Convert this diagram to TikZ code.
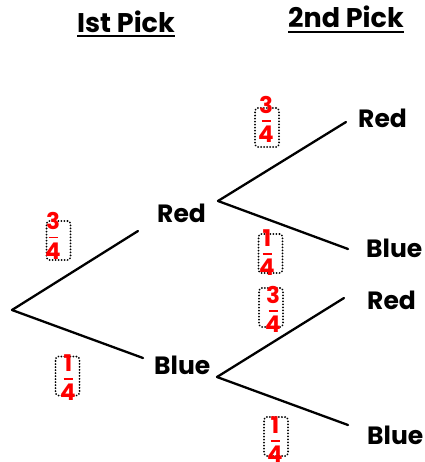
\documentclass[tikz,border=0pt]{standalone}
\usepackage{fontspec}
\setmainfont{Poppins}
\definecolor{fracred}{RGB}{255,0,0}
% stacked fraction: numerator, short bar, denominator
\newcommand\frc[2]{\vbox{\offinterlineskip\hbox to 12pt{\hss#1\hss}\kern6.5pt\hbox to 12pt{\hss\rule{9pt}{1.6pt}\hss}\kern4.5pt\hbox to 12pt{\hss#2\hss}}}
\begin{document}
\begin{tikzpicture}[x=1pt,y=-1pt,
  branch/.style={line width=2.3pt, line cap=round},
  lbl/.style={font=\fontsize{25}{25}\selectfont\bfseries, inner sep=0pt, anchor=base west},
  head/.style={font=\fontsize{27}{27}\selectfont\bfseries, inner sep=0pt, anchor=base west},
  fbox/.style={draw, line width=2pt, dash pattern=on 0.01pt off 3pt, line cap=round,
    rounded corners=3pt, minimum width=24pt, minimum height=39pt, inner sep=0pt},
  fval/.style={font=\fontsize{23}{23}\selectfont\bfseries, text=fracred, inner sep=0pt}]
\useasboundingbox (0,0) rectangle (424,462);

% column headings
\node[head] (h1) at (77,33) {Ist Pick};
\node[head] (h2) at (288,28) {2nd Pick};
\draw[line width=2pt] ([yshift=-3.5pt]h1.base west) -- ([yshift=-3.5pt]h1.base east);
\draw[line width=2pt] ([yshift=-4pt]h2.base west) -- ([yshift=-4pt]h2.base east);

% branch points and branch ends
\coordinate (root) at (12,310);
\coordinate (e1) at (138,231);
\coordinate (e2) at (143,358);
\coordinate (r1) at (218,201);
\coordinate (b1) at (217,377);
\coordinate (rr) at (346,122);
\coordinate (rb) at (348,249);
\coordinate (br) at (344,298);
\coordinate (bb) at (348,425);

\draw[branch] (root) -- (e1);
\draw[branch] (root) -- (e2);
\draw[branch] (r1) -- (rr);
\draw[branch] (r1) -- (rb);
\draw[branch] (b1) -- (br);
\draw[branch] (b1) -- (bb);

% outcome labels
\node[lbl] (red1) at (157,222) {Red};
\node[lbl] (blue1) at (154,374) {Blue};
\node[lbl] (red2) at (358,128) {Red};
\node[lbl] (blue2) at (366,257) {Blue};
\node[lbl] (red3) at (367,309) {Red};
\node[lbl] (blue3) at (367,444) {Blue};

% probabilities in dotted boxes
\node[fbox] (bx1) at (58.5,240.5) {};
\node[fval] (p1) at (53,236) {\frc{3}{4}};
\node[fbox] (bx2) at (67.5,376) {};
\node[fval] (p2) at (68,378) {\frc{1}{4}};
\node[fbox] (bx3) at (267,127.5) {};
\node[fval] (p3) at (266,119.5) {\frc{3}{4}};
\node[fbox] (bx4) at (270.5,253.5) {};
\node[fval] (p4) at (267,253) {\frc{1}{4}};
\node[fbox] (bx5) at (271,307.5) {};
\node[fval] (p5) at (273,309.5) {\frc{3}{4}};
\node[fbox] (bx6) at (276,436.5) {};
\node[fval] (p6) at (275,440) {\frc{1}{4}};
\end{tikzpicture}
\end{document}
